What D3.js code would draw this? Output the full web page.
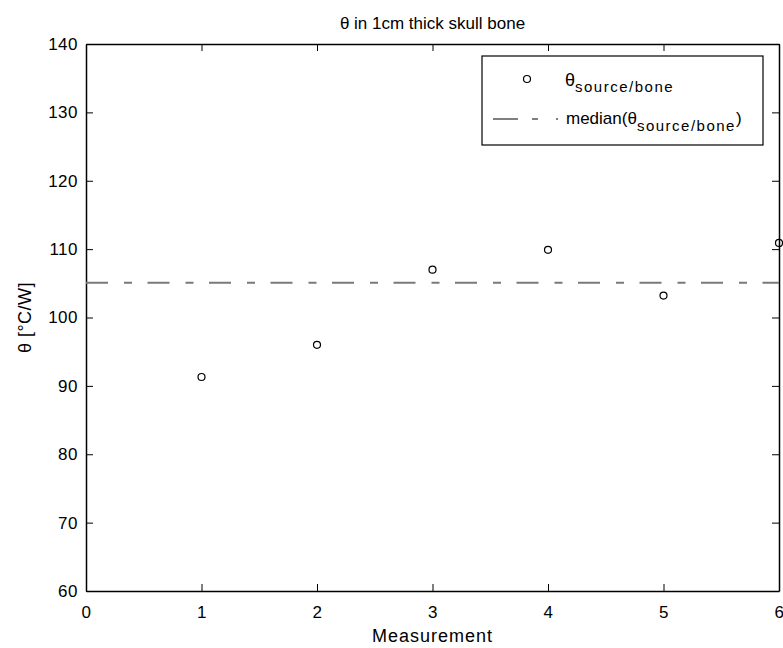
<!DOCTYPE html>
<html>
<head>
<meta charset="utf-8">
<script src="https://cdn.jsdelivr.net/npm/d3@7"></script>
<style>
  body { margin: 0; background: #ffffff; }
  text { font-family: "Liberation Sans", Arial, Helvetica, sans-serif; fill: #000; }
</style>
</head>
<body>
<svg class="theta-chart" width="783" height="648"></svg>
<script>
var measurements = [1, 2, 3, 4, 5, 6];
var theta = [91.3, 96.0, 107.0, 109.9, 103.2, 110.9];
var xTicks = [0, 1, 2, 3, 4, 5, 6];
var yTicks = [60, 70, 80, 90, 100, 110, 120, 130, 140];

var svg = d3.select('.theta-chart');
var margin = {top: 44, right: 4, bottom: 57, left: 86}
  , width = svg.attr('width') - margin.left - margin.right
  , height = svg.attr('height') - margin.top - margin.bottom;

var xScale = d3.scaleLinear()
    .domain([0, 6])
    .range([0, width]);

var yScale = d3.scaleLinear()
    .domain([60, 140])
    .range([height, 0]);

var g = svg.append('g')
    .attr('transform', 'translate(' + margin.left + ',' + margin.top + ')');

// axes box, matlab style ticks pointing inward on all sides
g.append('g')
    .attr('transform', 'translate(0,' + height + ')')
    .call(d3.axisBottom(xScale).tickValues(xTicks).tickFormat(d3.format('d'))
      .tickSizeInner(-7).tickSizeOuter(0).tickPadding(15));
g.append('g')
    .call(d3.axisTop(xScale).tickValues(xTicks).tickSizeInner(-7).tickSizeOuter(0).tickFormat(''));
g.append('g')
    .call(d3.axisLeft(yScale).tickValues(yTicks).tickFormat(d3.format('d'))
      .tickSizeInner(-7).tickSizeOuter(0).tickPadding(8));
g.append('g')
    .attr('transform', 'translate(' + width + ',0)')
    .call(d3.axisRight(yScale).tickValues(yTicks).tickSizeInner(-7).tickSizeOuter(0).tickFormat(''));

g.selectAll('.domain').attr('stroke', '#000').attr('stroke-width', 1.5);
g.selectAll('.tick line').attr('stroke', '#000');
g.selectAll('.tick text')
    .style('font-size', '17px')
    .style('letter-spacing', '0.5px')
    .style('font-family', '"Liberation Sans", Arial, sans-serif');

// median line
var med = d3.median(theta);
g.append('line')
    .attr('x1', xScale(0))
    .attr('x2', xScale(6))
    .attr('y1', yScale(med))
    .attr('y2', yScale(med))
    .attr('stroke', '#7a7a7a')
    .attr('stroke-width', 2)
    .attr('stroke-dasharray', '22,16,8,15.5');

// data points
g.selectAll('.dot')
    .data(measurements)
  .enter().append('circle')
    .attr('class', 'dot')
    .attr('cx', function(d) { return xScale(d); })
    .attr('cy', function(d, i) { return yScale(theta[i]); })
    .attr('r', 3.5)
    .attr('fill', 'none')
    .attr('stroke', '#000')
    .attr('stroke-width', 1.2);

// title and axis titles
svg.append('text')
    .attr('x', margin.left + width / 2)
    .attr('y', 29)
    .attr('text-anchor', 'middle')
    .style('font-size', '17px')
    .text('θ in 1cm thick skull bone');

svg.append('text')
    .attr('x', margin.left + width / 2)
    .attr('y', 642)
    .attr('text-anchor', 'middle')
    .style('font-size', '18px')
    .style('letter-spacing', '1px')
    .text('Measurement');

svg.append('text')
    .attr('transform', 'translate(31,' + (margin.top + height / 2) + ') rotate(-90)')
    .attr('text-anchor', 'middle')
    .style('font-size', '18px')
    .style('letter-spacing', '0.5px')
    .text('θ [°C/W]');

// legend
var legend = svg.append('g');
legend.append('rect')
    .attr('x', 482)
    .attr('y', 56)
    .attr('width', 281)
    .attr('height', 89)
    .attr('fill', '#fff')
    .attr('stroke', '#000')
    .attr('stroke-width', 1.2);

legend.append('circle')
    .attr('cx', 527)
    .attr('cy', 79)
    .attr('r', 3.5)
    .attr('fill', 'none')
    .attr('stroke', '#000')
    .attr('stroke-width', 1.2);

var t1 = legend.append('text')
    .attr('x', 565)
    .attr('y', 86)
    .style('font-size', '18px');
t1.append('tspan').text('θ');
t1.append('tspan').attr('dy', 6).style('font-size', '15px').style('letter-spacing', '1.5px').text('source/bone');

legend.append('line')
    .attr('x1', 493)
    .attr('x2', 558)
    .attr('y1', 119)
    .attr('y2', 119)
    .attr('stroke', '#555')
    .attr('stroke-width', 1.5)
    .attr('stroke-dasharray', '25,14,6,18,2,50');

var t2 = legend.append('text')
    .attr('x', 566)
    .attr('y', 124)
    .style('font-size', '17px');
t2.append('tspan').text('median(θ');
t2.append('tspan').attr('dy', 7).style('font-size', '15px').style('letter-spacing', '1.5px').text('source/bone');
t2.append('tspan').attr('dy', -7).text(')');
</script>
</body>
</html>
